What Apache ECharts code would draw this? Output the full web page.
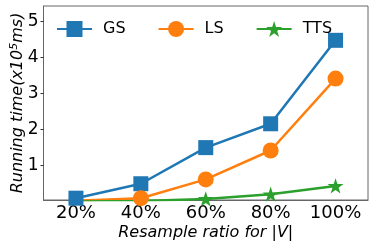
<!DOCTYPE html>
<html><head><meta charset="utf-8">
<script src="https://cdn.jsdelivr.net/npm/echarts@6/dist/echarts.min.js"></script>
<style>html,body{margin:0;padding:0;background:#fff}#c{width:374px;height:249px}</style>
</head><body><div id="c"></div>
<script>
const categories = ['20%', '40%', '60%', '80%', '100%'];
const gsValues = [0.1, 0.5, 1.5, 2.16, 4.47];
const lsValues = [0.03, 0.1, 0.62, 1.42, 3.41];
const ttsValues = [0.01, 0.02, 0.08, 0.21, 0.44];
const yTicks = [1, 2, 3, 4, 5];

const FONT = 'DejaVu Sans';
const star = 'path://M0,-100 L-22.45,-30.9 L-95.11,-30.9 L-36.33,11.8 L-58.78,80.9 L0,38.2 L58.78,80.9 L36.33,11.8 L95.11,-30.9 L22.45,-30.9 Z';

const chart = echarts.init(document.getElementById('c'), null, {renderer: 'canvas'});
function mk(name, data, color, symbol, size) {
  return {
    name, type: 'line', data, symbol, symbolSize: size, symbolKeepAspect: true,
    itemStyle: {color}, lineStyle: {color, width: 2.5}, showAllSymbol: true,
    animation: false, z: 3
  };
}
chart.setOption({
  animation: false,
  grid: {left: 43.5, right: 6, top: 6, bottom: 49, containLabel: false, outerBoundsMode: 'none'},
  legend: {
    left: 56, top: 21, padding: 0, itemWidth: 35, itemHeight: 20, itemGap: 32,
    textStyle: {fontFamily: FONT, fontSize: 16, color: '#000', padding: [0, 0, 0, 6]},
    data: ['GS', 'LS', 'TTS']
  },
  xAxis: {
    type: 'category', data: categories, boundaryGap: true,
    name: 'Resample ratio for |V|', nameLocation: 'middle', nameGap: 25, nameMoveOverlap: false,
    nameTextStyle: {fontFamily: FONT, fontSize: 16, fontStyle: 'italic', color: '#000'},
    axisLine: {lineStyle: {color: '#666', width: 1}},
    axisTick: {alignWithLabel: true, length: 3, lineStyle: {color: '#333'}},
    axisLabel: {fontFamily: FONT, fontSize: 18, color: '#000', margin: 4, interval: 0, hideOverlap: false},
    splitLine: {show: false}
  },
  yAxis: {
    type: 'value', min: 0.05, max: 5.42,
    name: '{i|Running time(x10}{s|5}{i|ms)}', nameLocation: 'middle', nameGap: 16, nameMoveOverlap: false,
    nameTextStyle: {
      rich: {
        i: {fontFamily: FONT, fontSize: 16, fontStyle: 'italic', color: '#000'},
        s: {fontFamily: FONT, fontSize: 11, fontStyle: 'italic', color: '#000', verticalAlign: 'top', padding: [0, 0, 8, 0]}
      }
    },
    axisLine: {show: true, lineStyle: {color: '#666', width: 1}},
    axisTick: {show: true, length: 3, customValues: yTicks, lineStyle: {color: '#333'}},
    axisLabel: {fontFamily: FONT, fontSize: 17, color: '#000', margin: 5, customValues: yTicks},
    splitLine: {show: false}
  },
  graphic: [{
    type: 'rect', shape: {x: 43.5, y: 6, width: 324.5, height: 194},
    style: {fill: 'none', stroke: '#666', lineWidth: 1}, silent: true, z: 0
  }],
  series: [
    mk('GS', gsValues, '#1f77b4', 'rect', 15),
    mk('LS', lsValues, '#ff7f0e', 'circle', 16),
    mk('TTS', ttsValues, '#2ca02c', star, 16)
  ]
});
</script></body></html>
